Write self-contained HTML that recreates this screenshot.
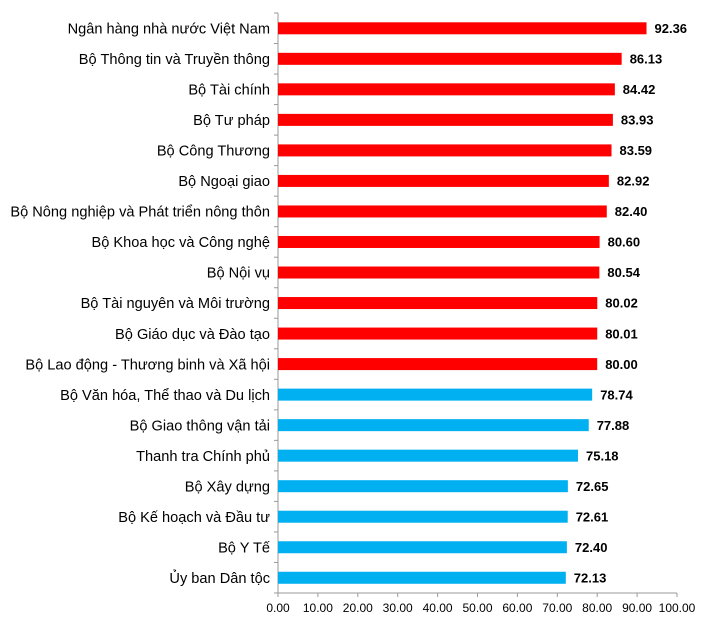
<!DOCTYPE html>
<html><head><meta charset="utf-8"><style>body{margin:0;background:#fff}</style></head><body>
<svg width="710" height="622" xmlns="http://www.w3.org/2000/svg" font-family="Liberation Sans, sans-serif">
<rect width="710" height="622" fill="#fff"/>
<g stroke="#999">
<line x1="278" x2="278" y1="13" y2="593"/><line x1="274" x2="677" y1="593" y2="593"/>
</g>
<g font-size="14.6" text-anchor="end" fill="#000">
<g transform="translate(0,13)"><line x1="274" x2="278" y1="0" y2="0" stroke="#999"/><rect x="278" y="9.3" width="368.52" height="12" fill="#ff0000"/><text x="270" y="20.5">Ngân hàng nhà nước Việt Nam</text><text x="654.5" y="20" text-anchor="start" font-size="13" font-weight="bold">92.36</text></g>
<g transform="translate(0,43.53)"><line x1="274" x2="278" y1="0" y2="0" stroke="#999"/><rect x="278" y="9.3" width="343.66" height="12" fill="#ff0000"/><text x="270" y="20.5">Bộ Thông tin và Truyền thông</text><text x="629.7" y="20" text-anchor="start" font-size="13" font-weight="bold">86.13</text></g>
<g transform="translate(0,74.05)"><line x1="274" x2="278" y1="0" y2="0" stroke="#999"/><rect x="278" y="9.3" width="336.84" height="12" fill="#ff0000"/><text x="270" y="20.5">Bộ Tài chính</text><text x="622.8" y="20" text-anchor="start" font-size="13" font-weight="bold">84.42</text></g>
<g transform="translate(0,104.58)"><line x1="274" x2="278" y1="0" y2="0" stroke="#999"/><rect x="278" y="9.3" width="334.88" height="12" fill="#ff0000"/><text x="270" y="20.5">Bộ Tư pháp</text><text x="620.9" y="20" text-anchor="start" font-size="13" font-weight="bold">83.93</text></g>
<g transform="translate(0,135.11)"><line x1="274" x2="278" y1="0" y2="0" stroke="#999"/><rect x="278" y="9.3" width="333.52" height="12" fill="#ff0000"/><text x="270" y="20.5">Bộ Công Thương</text><text x="619.5" y="20" text-anchor="start" font-size="13" font-weight="bold">83.59</text></g>
<g transform="translate(0,165.63)"><line x1="274" x2="278" y1="0" y2="0" stroke="#999"/><rect x="278" y="9.3" width="330.85" height="12" fill="#ff0000"/><text x="270" y="20.5">Bộ Ngoại giao</text><text x="616.9" y="20" text-anchor="start" font-size="13" font-weight="bold">82.92</text></g>
<g transform="translate(0,196.16)"><line x1="274" x2="278" y1="0" y2="0" stroke="#999"/><rect x="278" y="9.3" width="328.78" height="12" fill="#ff0000"/><text x="270" y="20.5">Bộ Nông nghiệp và Phát triển nông thôn</text><text x="614.8" y="20" text-anchor="start" font-size="13" font-weight="bold">82.40</text></g>
<g transform="translate(0,226.68)"><line x1="274" x2="278" y1="0" y2="0" stroke="#999"/><rect x="278" y="9.3" width="321.59" height="12" fill="#ff0000"/><text x="270" y="20.5">Bộ Khoa học và Công nghệ</text><text x="607.6" y="20" text-anchor="start" font-size="13" font-weight="bold">80.60</text></g>
<g transform="translate(0,257.21)"><line x1="274" x2="278" y1="0" y2="0" stroke="#999"/><rect x="278" y="9.3" width="321.35" height="12" fill="#ff0000"/><text x="270" y="20.5">Bộ Nội vụ</text><text x="607.4" y="20" text-anchor="start" font-size="13" font-weight="bold">80.54</text></g>
<g transform="translate(0,287.74)"><line x1="274" x2="278" y1="0" y2="0" stroke="#999"/><rect x="278" y="9.3" width="319.28" height="12" fill="#ff0000"/><text x="270" y="20.5">Bộ Tài nguyên và Môi trường</text><text x="605.3" y="20" text-anchor="start" font-size="13" font-weight="bold">80.02</text></g>
<g transform="translate(0,318.26)"><line x1="274" x2="278" y1="0" y2="0" stroke="#999"/><rect x="278" y="9.3" width="319.24" height="12" fill="#ff0000"/><text x="270" y="20.5">Bộ Giáo dục và Đào tạo</text><text x="605.2" y="20" text-anchor="start" font-size="13" font-weight="bold">80.01</text></g>
<g transform="translate(0,348.79)"><line x1="274" x2="278" y1="0" y2="0" stroke="#999"/><rect x="278" y="9.3" width="319.2" height="12" fill="#ff0000"/><text x="270" y="20.5">Bộ Lao động - Thương binh và Xã hội</text><text x="605.2" y="20" text-anchor="start" font-size="13" font-weight="bold">80.00</text></g>
<g transform="translate(0,379.32)"><line x1="274" x2="278" y1="0" y2="0" stroke="#999"/><rect x="278" y="9.3" width="314.17" height="12" fill="#00b0f0"/><text x="270" y="20.5">Bộ Văn hóa, Thể thao và Du lịch</text><text x="600.2" y="20" text-anchor="start" font-size="13" font-weight="bold">78.74</text></g>
<g transform="translate(0,409.84)"><line x1="274" x2="278" y1="0" y2="0" stroke="#999"/><rect x="278" y="9.3" width="310.74" height="12" fill="#00b0f0"/><text x="270" y="20.5">Bộ Giao thông vận tải</text><text x="596.7" y="20" text-anchor="start" font-size="13" font-weight="bold">77.88</text></g>
<g transform="translate(0,440.37)"><line x1="274" x2="278" y1="0" y2="0" stroke="#999"/><rect x="278" y="9.3" width="299.97" height="12" fill="#00b0f0"/><text x="270" y="20.5">Thanh tra Chính phủ</text><text x="586" y="20" text-anchor="start" font-size="13" font-weight="bold">75.18</text></g>
<g transform="translate(0,470.89)"><line x1="274" x2="278" y1="0" y2="0" stroke="#999"/><rect x="278" y="9.3" width="289.87" height="12" fill="#00b0f0"/><text x="270" y="20.5">Bộ Xây dựng</text><text x="575.9" y="20" text-anchor="start" font-size="13" font-weight="bold">72.65</text></g>
<g transform="translate(0,501.42)"><line x1="274" x2="278" y1="0" y2="0" stroke="#999"/><rect x="278" y="9.3" width="289.71" height="12" fill="#00b0f0"/><text x="270" y="20.5">Bộ Kế hoạch và Đầu tư</text><text x="575.7" y="20" text-anchor="start" font-size="13" font-weight="bold">72.61</text></g>
<g transform="translate(0,531.95)"><line x1="274" x2="278" y1="0" y2="0" stroke="#999"/><rect x="278" y="9.3" width="288.88" height="12" fill="#00b0f0"/><text x="270" y="20.5">Bộ Y Tế</text><text x="574.9" y="20" text-anchor="start" font-size="13" font-weight="bold">72.40</text></g>
<g transform="translate(0,562.47)"><line x1="274" x2="278" y1="0" y2="0" stroke="#999"/><rect x="278" y="9.3" width="287.8" height="12" fill="#00b0f0"/><text x="270" y="20.5">Ủy ban Dân tộc</text><text x="573.8" y="20" text-anchor="start" font-size="13" font-weight="bold">72.13</text></g>
</g>
<g stroke="#999">
<line x1="278" x2="278" y1="593" y2="597"/><line x1="317.9" x2="317.9" y1="593" y2="597"/><line x1="357.8" x2="357.8" y1="593" y2="597"/><line x1="397.7" x2="397.7" y1="593" y2="597"/><line x1="437.6" x2="437.6" y1="593" y2="597"/><line x1="477.5" x2="477.5" y1="593" y2="597"/><line x1="517.4" x2="517.4" y1="593" y2="597"/><line x1="557.3" x2="557.3" y1="593" y2="597"/><line x1="597.2" x2="597.2" y1="593" y2="597"/><line x1="637.1" x2="637.1" y1="593" y2="597"/><line x1="677" x2="677" y1="593" y2="597"/>
</g>
<g font-size="12" text-anchor="middle" fill="#000">
<text x="278" y="612">0.00</text><text x="317.9" y="612">10.00</text><text x="357.8" y="612">20.00</text><text x="397.7" y="612">30.00</text><text x="437.6" y="612">40.00</text><text x="477.5" y="612">50.00</text><text x="517.4" y="612">60.00</text><text x="557.3" y="612">70.00</text><text x="597.2" y="612">80.00</text><text x="637.1" y="612">90.00</text><text x="677" y="612">100.00</text>
</g>
</svg>
</body></html>
